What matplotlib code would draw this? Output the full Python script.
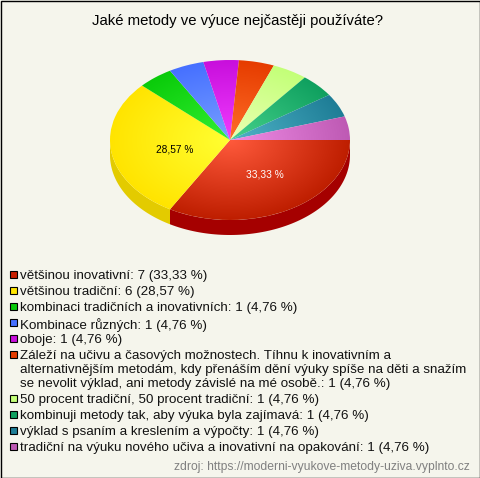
import numpy as np
import matplotlib
matplotlib.use("Agg")
import matplotlib.pyplot as plt
from matplotlib.colors import to_rgb
from matplotlib.patches import Polygon, Rectangle

W, H = 480, 478
TITLE = "Jaké metody ve výuce nejčastěji používáte?"
SOURCE = "zdroj: https://moderni-vyukove-metody-uziva.vyplnto.cz"
categories = [
    "většinou inovativní",
    "většinou tradiční",
    "kombinaci tradičních a inovativních",
    "Kombinace různých",
    "oboje",
    "Záleží na učivu a časových možnostech. Tíhnu k inovativním a\nalternativnějším metodám, kdy přenáším dění výuky spíše na děti a snažím\nse nevolit výklad, ani metody závislé na mé osobě.",
    "50 procent tradiční, 50 procent tradiční",
    "kombinuji metody tak, aby výuka byla zajímavá",
    "výklad s psaním a kreslením a výpočty",
    "tradiční na výuku nového učiva a inovativní na opakování",
]
counts = [7, 6, 1, 1, 1, 1, 1, 1, 1, 1]
pct_text = ["33,33", "28,57", "4,76", "4,76", "4,76", "4,76", "4,76", "4,76", "4,76", "4,76"]
edge_colors = ["#BE1E00", "#FFE400", "#0ACB0A", "#4670FF", "#C80FDC", "#E63C00",
               "#C3FF78", "#0FA05F", "#1E7D96", "#BE5AB4"]
center_colors = ["#FF5A3C", "#FFFF32", "#32F032", "#78A0FF", "#F03CFF", "#FF6E28",
                 "#EBFFB4", "#46D28C", "#50B4C8", "#F08CE6"]
side_colors = ["#A50000", "#E3CB00"]
legend_colors = ["#C81E00", "#FFE600", "#0ACB0A", "#4670FF", "#C80FDC", "#E63C00",
                 "#C3FF78", "#0FA05F", "#1E7D96", "#BE5AB4"]
BG = "#F5F5EC"

plt.rcParams["font.family"] = ["Liberation Sans", "DejaVu Sans"]
fig = plt.figure(figsize=(W / 100, H / 100), dpi=100, facecolor=BG)

# unit circle maps onto a 120 x 80 px ellipse centred at (230, 140)
CX, CY, RX, RY, DEPTH = 230, 140, 120, 80, 15
ax = fig.add_axes([0, 0, 1, 1], facecolor="none")
wedges, _ = ax.pie(counts, startangle=0, counterclock=False, radius=1, center=(0, 0),
                   wedgeprops=dict(linewidth=0))
ax.set_aspect("auto")
ax.set_xlim(-CX / RX, (W - CX) / RX)
ax.set_ylim(-(H - CY) / RY, CY / RY)
ax.axis("off")

# extruded side for the part of each slice on the front half
fractions = np.cumsum([0] + counts) / sum(counts) * 360
dy = DEPTH / RY
for i, side in enumerate(side_colors):
    a0, a1 = fractions[i], min(fractions[i + 1], 180)
    t = np.radians(np.linspace(a0, a1, 80))
    top = np.column_stack([np.cos(t), -np.sin(t)])
    bot = top[::-1] - [0, dy]
    ax.add_patch(Polygon(np.vstack([top, bot]), closed=True, fc=side, ec="none", zorder=1))

# radial gradient on each slice
xx, yy = np.meshgrid(np.linspace(-1, 1, 400), np.linspace(-1, 1, 400))
rr = np.clip(np.hypot(xx, yy), 0, 1)[..., None]
for w, ec, cc in zip(wedges, edge_colors, center_colors):
    w.set_facecolor("none")
    img = np.array(to_rgb(cc)) * (1 - rr) + np.array(to_rgb(ec)) * rr
    im = ax.imshow(img, extent=(-1, 1, -1, 1), origin="lower", aspect="auto",
                   interpolation="bilinear", zorder=2)
    im.set_clip_path(w)
ax.set_aspect("auto")
ax.set_xlim(-CX / RX, (W - CX) / RX)
ax.set_ylim(-(H - CY) / RY, CY / RY)

# percentage labels on the two big slices
label_style = [("white", (5, 0)), ("black", (4, -4))]
for i, (col, off) in enumerate(label_style):
    mid = np.radians((fractions[i] + fractions[i + 1]) / 2)
    ax.annotate(f"{pct_text[i]} %", (0.5 * np.cos(mid), -0.5 * np.sin(mid)),
                xytext=off, textcoords="offset pixels", color=col, fontsize=7.3,
                ha="center", va="center", zorder=3)

# overlay in pixel coordinates for title, legend, frame
ov = fig.add_axes([0, 0, 1, 1], facecolor="none")
ov.set_xlim(0, W)
ov.set_ylim(H, 0)
ov.axis("off")
ov.add_patch(Rectangle((0.5, 0.5), W - 1, H - 1, fc="none", ec="black", lw=1))
ov.text(237.5, 20.5, TITLE, ha="center", va="center", fontsize=10.68, color="black")

y = 274.2
LINE = 14.0
for cat, n, p, col in zip(categories, counts, pct_text, legend_colors):
    ov.add_patch(Rectangle((10, y - 3.5), 6.5, 7, fc=col, ec="black", lw=0.8))
    text = f"{cat}: {n} ({p} %)"
    ov.text(20, y - 4.5, text, ha="left", va="top", fontsize=9.6, color="#111111",
            linespacing=1.2)
    y += 16.05 + (text.count("\n") * LINE)

ov.text(470, 467, SOURCE, ha="right", va="center", fontsize=8.7, color="#808080")

fig.savefig("out.png", dpi=100, facecolor=BG)
